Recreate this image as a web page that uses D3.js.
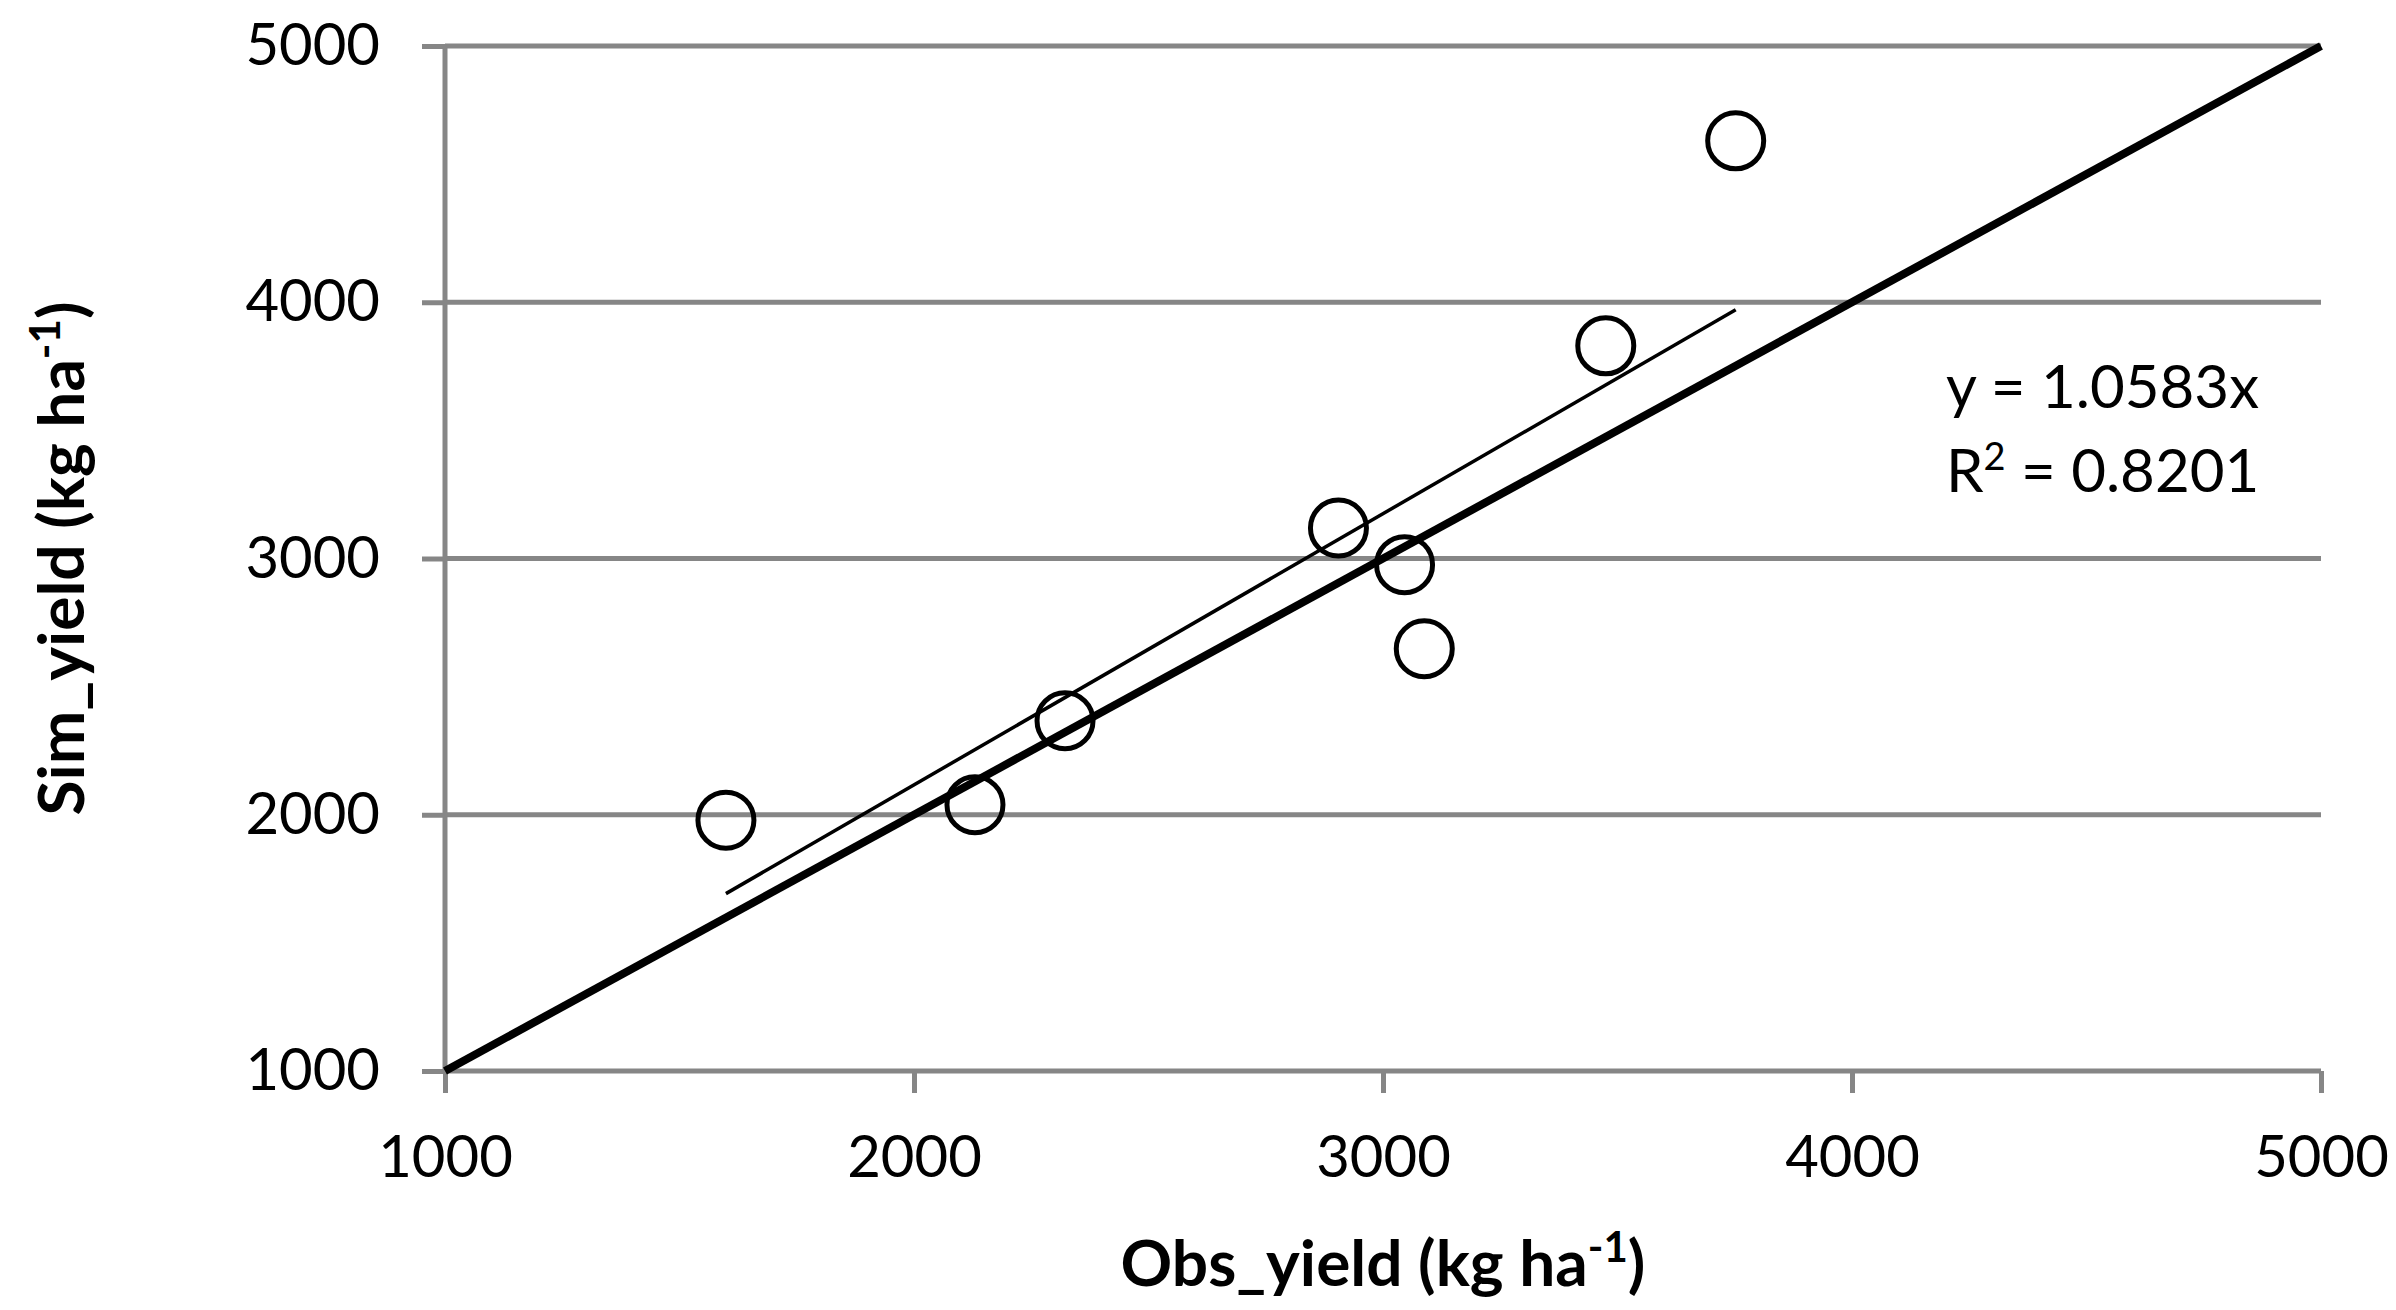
<!DOCTYPE html>
<html><head><meta charset="utf-8">
<script src="https://cdn.jsdelivr.net/npm/d3@7"></script>
<style>html,body{margin:0;padding:0;background:#fff;}svg{display:block;}</style>
</head><body>
<svg id="chart" width="2396" height="1310"></svg>
<script>
const obsYield = [1599, 2130, 2322, 2905, 3046, 3088, 3475, 3752];
const simYield = [1979, 2039, 2367, 3119, 2976, 2648, 3830, 4630];
const xTicks = [1000, 2000, 3000, 4000, 5000];
const yTicks = [1000, 2000, 3000, 4000, 5000];
const slope = 1.0583;
const r2 = "0.8201";
const oneToOne = [1000, 5000];

const svg = d3.select("#chart");
const L = 445, R = 2321, T = 46, B = 1071;
const x = d3.scaleLinear().domain([1000, 5000]).range([L, R]);
const y = d3.scaleLinear().domain([1000, 5000]).range([B, T]);
const grey = "#868686";
const font = "Lato, 'Open Sans', sans-serif";

// gridlines
svg.append("g").selectAll("line").data(yTicks.filter(d => d > 1000)).join("line")
  .attr("x1", L).attr("x2", R).attr("y1", d => y(d)).attr("y2", d => y(d))
  .attr("stroke", grey).attr("stroke-width", 5);

// axes
const yAxis = svg.append("g").attr("transform", `translate(${L},0)`)
  .call(d3.axisLeft(y).tickValues(yTicks).tickSize(23).tickPadding(42).tickFormat(d3.format("d")));
const xAxis = svg.append("g").attr("transform", `translate(0,${B})`)
  .call(d3.axisBottom(x).tickValues(xTicks).tickSize(22).tickPadding(43).tickFormat(d3.format("d")));
[yAxis, xAxis].forEach(g => {
  g.select(".domain").attr("stroke", grey).attr("stroke-width", 5);
  g.selectAll(".tick line").attr("stroke", grey).attr("stroke-width", 5);
  g.selectAll(".tick text").attr("fill", "#000").attr("font-family", font).attr("font-size", 58);
});
yAxis.select(".domain").attr("d", `M0,${B}V${T}`);
xAxis.select(".domain").attr("d", `M${L},0H${R}`);

// 1:1 line
svg.append("line")
  .attr("x1", x(oneToOne[0])).attr("y1", y(oneToOne[0]))
  .attr("x2", x(oneToOne[1])).attr("y2", y(oneToOne[1]))
  .attr("stroke", "#000").attr("stroke-width", 8);

// trend line
const xmin = d3.min(obsYield), xmax = d3.max(obsYield);
svg.append("line")
  .attr("x1", x(xmin)).attr("y1", y(slope * xmin))
  .attr("x2", x(xmax)).attr("y2", y(slope * xmax))
  .attr("stroke", "#000").attr("stroke-width", 3.5);

// points
svg.append("g").selectAll("circle").data(obsYield.map((d, i) => [d, simYield[i]])).join("circle")
  .attr("cx", d => x(d[0])).attr("cy", d => y(d[1])).attr("r", 28)
  .attr("fill", "none").attr("stroke", "#000").attr("stroke-width", 5);

// equation
const eq = svg.append("text").attr("font-family", font).attr("font-size", 60).attr("fill", "#000");
eq.append("tspan").attr("x", 1946).attr("y", 408).text(`y = ${slope}x`);
const l2 = eq.append("tspan").attr("x", 1946).attr("y", 492);
l2.text("R");
eq.append("tspan").attr("dy", -22).attr("font-size", 38).text("2");
eq.append("tspan").attr("dy", 22).text(` = ${r2}`);

// axis titles
function title(g, label) {
  g.append("tspan").text(label + " (kg ha");
  g.append("tspan").attr("dy", -24).attr("font-size", 42).text("-1");
  g.append("tspan").attr("dy", 24).text(")");
}
const xt = svg.append("text").attr("x", (L + R) / 2).attr("y", 1286)
  .attr("text-anchor", "middle").attr("font-family", font).attr("font-weight", "bold")
  .attr("font-size", 64).attr("fill", "#000");
title(xt, "Obs_yield");
const yt = svg.append("text").attr("transform", `translate(84,${(T + B) / 2}) rotate(-90)`)
  .attr("text-anchor", "middle").attr("font-family", font).attr("font-weight", "bold")
  .attr("font-size", 64).attr("fill", "#000");
title(yt, "Sim_yield");
</script>
</body></html>
